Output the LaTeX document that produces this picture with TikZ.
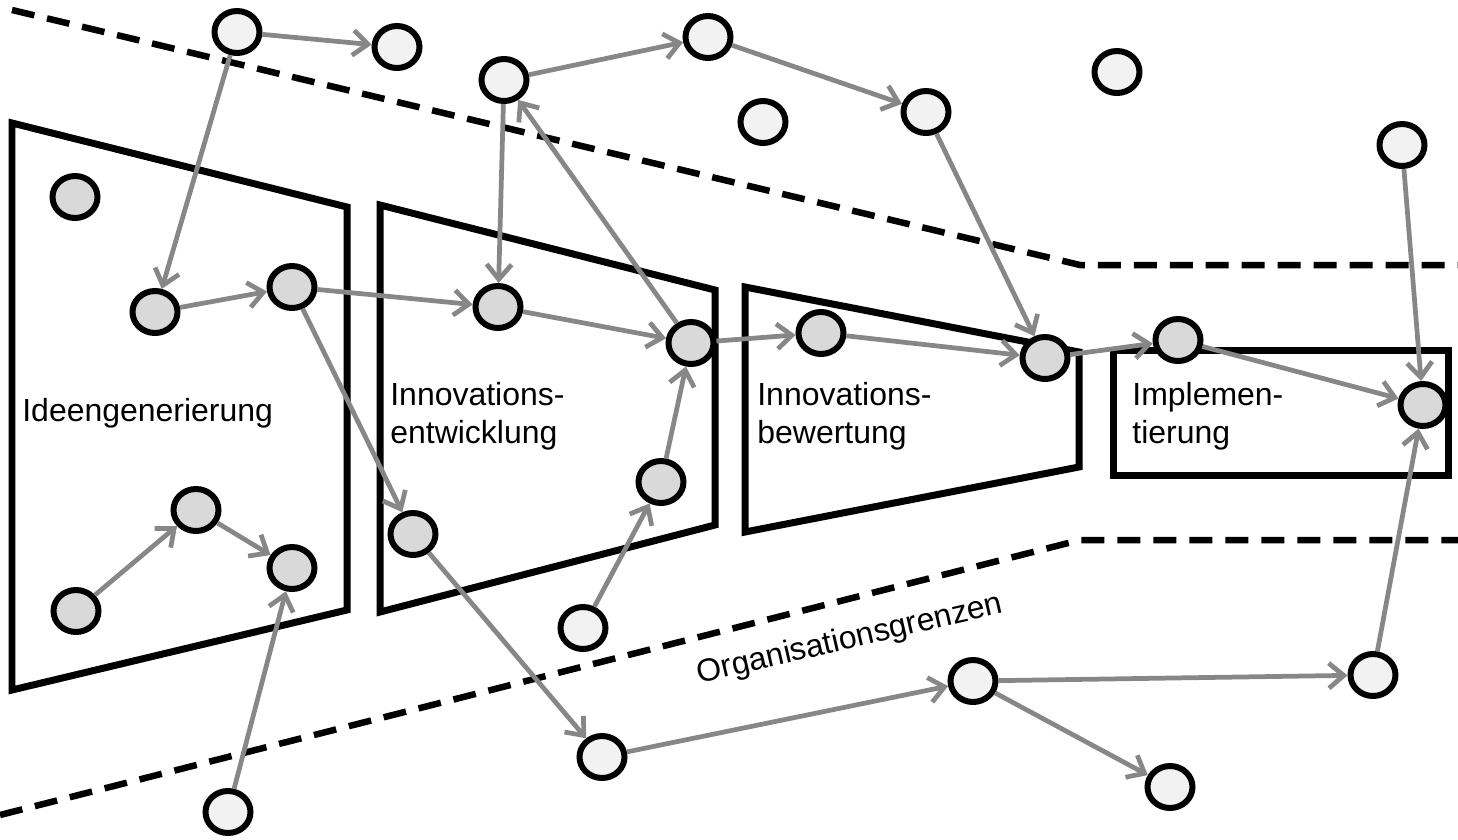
\documentclass[tikz,border=0pt]{standalone}
\usepackage{fontspec}
\setmainfont{Liberation Sans}
\usetikzlibrary{arrows.meta,shapes.geometric}
\definecolor{hell}{HTML}{F2F2F2}
\definecolor{dunkel}{HTML}{D9D9D9}
\definecolor{pfeil}{HTML}{878787}

\begin{document}
\begin{tikzpicture}
  [x=0.02cm,y=-0.02cm,
   knoten/.style={ellipse,draw,line width=0.12cm,minimum width=0.9cm,minimum height=0.84cm,inner sep=0pt},
   aussen/.style={knoten,fill=hell},
   innen/.style={knoten,fill=dunkel},
   rahmen/.style={line width=0.14cm},
   grenze/.style={line width=0.13cm,dash pattern=on 0.46cm off 0.26cm},
   pfeil/.style={draw=pfeil,line width=0.095cm,-{Straight Barb[length=0.3cm,width=0.5cm]}},
   etikett/.style={font=\fontsize{18.2}{21.5}\selectfont,align=left,inner sep=0pt,anchor=west}]
  \useasboundingbox (0,0) rectangle (1458,839);

  % Organisationsgrenzen
  \draw[grenze] (12,10) -- (1080,265) -- (1458,265);
  \draw[grenze] (0,815) -- (1080,540) -- (1458,540);
  \node[etikett,anchor=center,rotate=13] (og) at (850,640) {Organisationsgrenzen};

  % Phasen
  \draw[rahmen] (12,123) -- (347,207) -- (347,610) -- (12,690) -- cycle;
  \draw[rahmen] (380,205) -- (715,290) -- (715,525) -- (380,612) -- cycle;
  \draw[rahmen] (745,287) -- (1079,352) -- (1079,467) -- (745,532) -- cycle;
  \draw[rahmen] (1113,350) rectangle (1448,475);

  \node[etikett] (p1) at (22,413) {Ideengenerierung};
  \node[etikett] (p2) at (390,416) {Innovations-\\entwicklung};
  \node[etikett] (p3) at (757,416) {Innovations-\\bewertung};
  \node[etikett] (p4) at (1132,416) {Implemen-\\tierung};

  % ausserhalb
  \node[aussen] (e1) at (237,32) {};
  \node[aussen] (e2) at (397,47) {};
  \node[aussen] (e3) at (504,80) {};
  \node[aussen] (e4) at (708,37) {};
  \node[aussen] (e5) at (763,122) {};
  \node[aussen] (e6) at (926,112) {};
  \node[aussen] (e7) at (1117,72) {};
  \node[aussen] (e8) at (1402,145) {};
  \node[aussen] (e9) at (583,628) {};
  \node[aussen] (e10) at (602,757) {};
  \node[aussen] (e11) at (228,812) {};
  \node[aussen] (e12) at (973,681) {};
  \node[aussen] (e13) at (1170,787) {};
  \node[aussen] (e14) at (1373,675) {};

  % innerhalb
  \node[innen] (i1) at (75,197) {};
  \node[innen] (i2) at (155,312) {};
  \node[innen] (i3) at (292,287) {};
  \node[innen] (i4) at (196,510) {};
  \node[innen] (i5) at (76,611) {};
  \node[innen] (i6) at (292,568) {};
  \node[innen] (i7) at (498,307) {};
  \node[innen] (i8) at (413,534) {};
  \node[innen] (i9) at (691,343) {};
  \node[innen] (i10) at (661,482) {};
  \node[innen] (i11) at (821,333) {};
  \node[innen] (i12) at (1045,358) {};
  \node[innen] (i13) at (1178,340) {};
  \node[innen] (i14) at (1423,405) {};

  \foreach \from/\to in {e1/e2,e1/i2,e3/e4,e4/e6,e3/i7,i9/e3,e6/i12,e8/i14,
                         i2/i3,i3/i7,i3/i8,i7/i9,i9/i11,i10/i9,e9/i10,i11/i12,
                         i12/i13,i13/i14,i5/i4,i4/i6,e11/i6,i8/e10,e10/e12,
                         e12/e14,e12/e13,e14/i14}
    \draw[pfeil] (\from) -- (\to);

\end{tikzpicture}
\end{document}
